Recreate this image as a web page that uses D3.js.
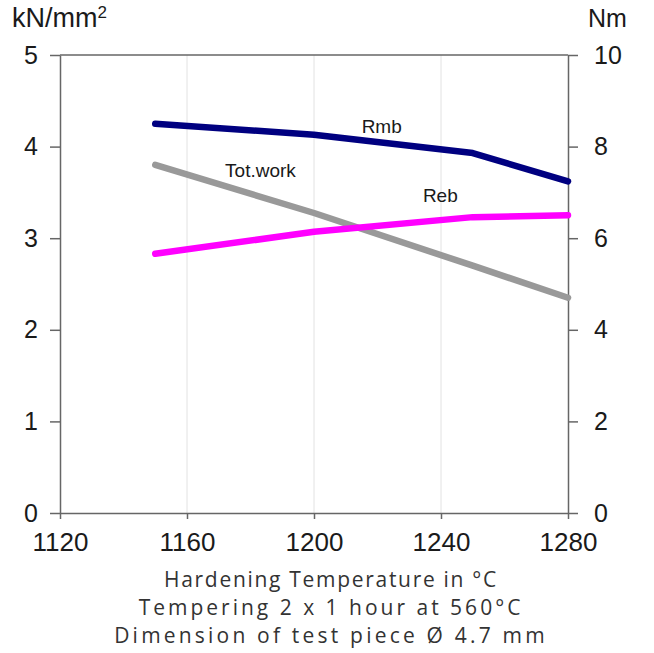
<!DOCTYPE html>
<html>
<head>
<meta charset="UTF-8">
<script src="https://d3js.org/d3.v7.min.js"></script>
<style>
  body { margin: 0; background: #fff; }
  .tick text { font-family: "Liberation Sans", Arial, sans-serif; }
</style>
</head>
<body>
<svg id="chart"></svg>
<script>
// hardening temperatures (x)
var temps = [1150, 1200, 1250, 1280];
// left axis, kN/mm2
var rmb = [4.25, 4.13, 3.93, 3.62];
var reb = [2.83, 3.07, 3.23, 3.25];
// right axis, Nm
var totWork = [7.6, 6.55, 5.4, 4.7];

var xTicks = [1120, 1160, 1200, 1240, 1280];
var leftTicks = [0, 1, 2, 3, 4, 5];
var rightTicks = [0, 2, 4, 6, 8, 10];
var captions = ["Hardening Temperature in \u00B0C", "Tempering 2 x 1 hour at 560\u00B0C", "Dimension of test piece \u00D8 4.7 mm"];

var width = 654, height = 653;
var svg = d3.select("#chart").attr("width", width).attr("height", height);

var x = d3.scaleLinear().domain([1120, 1280]).range([60, 568]);
var yL = d3.scaleLinear().domain([0, 5]).range([513, 55]);
var yR = d3.scaleLinear().domain([0, 10]).range([513, 55]);

var axisColor = "#666";

// vertical gridlines
svg.append("g").selectAll("line")
  .data([1160, 1200, 1240])
  .enter().append("line")
    .attr("x1", function(d) { return x(d); })
    .attr("x2", function(d) { return x(d); })
    .attr("y1", yL(5)).attr("y2", yL(0))
    .attr("stroke", "#e2e2e2").attr("stroke-width", 1);

// top line
svg.append("line")
  .attr("x1", x(1120)).attr("x2", x(1280))
  .attr("y1", yL(5)).attr("y2", yL(5))
  .attr("stroke", axisColor).attr("stroke-width", 1.5);

function styleAxis(size) {
  return function(g) {
    g.select(".domain").attr("stroke", axisColor).attr("stroke-width", 1.5);
    g.selectAll(".tick line").attr("stroke", axisColor).attr("stroke-width", 1.5);
    g.selectAll(".tick text").attr("fill", "#1a1a1a").attr("font-size", size);
  };
}

svg.append("g")
  .attr("transform", "translate(0," + yL(0) + ")")
  .call(d3.axisBottom(x).tickValues(xTicks).tickFormat(d3.format("d")).tickSize(6).tickSizeOuter(0).tickPadding(14))
  .call(styleAxis(26));

svg.append("g")
  .attr("transform", "translate(" + x(1120) + ",0)")
  .call(d3.axisLeft(yL).tickValues(leftTicks).tickFormat(d3.format("d")).tickSize(10).tickSizeOuter(0).tickPadding(12))
  .call(styleAxis(25));

svg.append("g")
  .attr("transform", "translate(" + x(1280) + ",0)")
  .call(d3.axisRight(yR).tickValues(rightTicks).tickFormat(d3.format("d")).tickSize(10).tickSizeOuter(0).tickPadding(16))
  .call(styleAxis(25));

// axis unit titles
svg.append("text").attr("x", 12).attr("y", 27)
  .attr("font-family", "Liberation Sans, Arial, sans-serif").attr("font-size", 27).attr("fill", "#1a1a1a")
  .text("kN/mm").append("tspan").attr("font-size", 17).attr("dy", -9).text("2");
svg.append("text").attr("x", 588).attr("y", 27)
  .attr("font-family", "Liberation Sans, Arial, sans-serif").attr("font-size", 25).attr("fill", "#1a1a1a")
  .text("Nm");

// series
var series = [
  { name: "Tot.work", values: totWork, y: yR, color: "#999999" },
  { name: "Reb", values: reb, y: yL, color: "#ff00ff" },
  { name: "Rmb", values: rmb, y: yL, color: "#000080" }
];

series.forEach(function(s) {
  var line = d3.line()
    .x(function(d, i) { return x(temps[i]); })
    .y(function(d) { return s.y(d); });
  svg.append("path")
    .datum(s.values)
    .attr("d", line)
    .attr("fill", "none")
    .attr("stroke", s.color)
    .attr("stroke-width", 6.5)
    .attr("stroke-linecap", "round")
    .attr("stroke-linejoin", "round");
});

// series labels
var labels = [
  { text: "Rmb", t: 1215, v: 4.148, y: yL },
  { text: "Tot.work", t: 1172, v: 7.34, y: yR },
  { text: "Reb", t: 1234.3, v: 3.395, y: yL }
];
svg.append("g").selectAll("text")
  .data(labels)
  .enter().append("text")
    .attr("x", function(d) { return x(d.t); })
    .attr("y", function(d) { return d.y(d.v); })
    .attr("font-family", "Liberation Sans, Arial, sans-serif")
    .attr("font-size", 19)
    .attr("fill", "#1a1a1a")
    .text(function(d) { return d.text; });

// captions
var captionSpacing = [1.7, 3.0, 3.2];
svg.append("g").selectAll("text")
  .data(captions)
  .enter().append("text")
    .attr("x", 331)
    .attr("y", function(d, i) { return 587 + i * 28; })
    .attr("text-anchor", "middle")
    .attr("font-family", "Open Sans, sans-serif")
    .attr("font-size", 21)
    .attr("letter-spacing", function(d, i) { return captionSpacing[i]; })
    .attr("fill", "#333")
    .text(function(d) { return d; });
</script>
</body>
</html>
